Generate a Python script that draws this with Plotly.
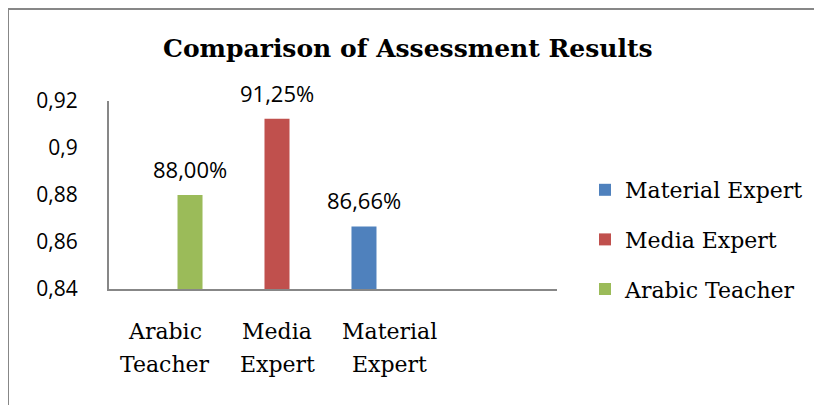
import plotly.graph_objects as go

# ---- data ----
categories = ["Arabic Teacher", "Media Expert", "Material Expert"]
series_names = ["Material Expert", "Media Expert", "Arabic Teacher"]
series_values = {
    "Material Expert": [None, None, 0.8666],
    "Media Expert": [None, 0.9125, None],
    "Arabic Teacher": [0.88, None, None],
}
series_colors = {
    "Material Expert": "#4F81BD",
    "Media Expert": "#C0504D",
    "Arabic Teacher": "#9BBB59",
}
y_ticks = [0.84, 0.86, 0.88, 0.90, 0.92]
title_text = "Comparison of Assessment Results"

# page body has an 8px margin; targets below are screen pixels
OFF = 8
W, H = 822 - OFF, 405 - OFF
L, R, T, B = 109 - OFF, 265, 101 - OFF, 116
PW, PH = W - L - R, H - T - B

def px_x(px):
    return (px - OFF - L) / PW

def px_y(py):
    return (H - B - (py - OFF)) / PH

SERIF = "DejaVu Serif"
SANS = "Open Sans"
GRAY = "#878787"

X_RANGE = [-0.5, 3.5]
BARGAP = 0.33
band_px = PW / (X_RANGE[1] - X_RANGE[0])
n_series = len(series_names)
slot_px = band_px * (1 - BARGAP) / n_series

fig = go.Figure()
annotations = []
for k, name in enumerate(series_names):
    vals = series_values[name]
    fig.add_trace(go.Bar(
        x=categories, y=vals, name=name,
        marker=dict(color=series_colors[name], line=dict(width=0)),
        legendgroup=name,
    ))
    shift = (k - (n_series - 1) / 2) * slot_px
    for c, v in zip(categories, vals):
        if v is None:
            continue
        label = f"{v*100:.2f}%".replace(".", ",")
        annotations.append(dict(
            x=c, y=v, xref="x", yref="y", text=label, showarrow=False,
            yanchor="bottom", yshift=9, xshift=shift,
            font=dict(family=SANS, size=22, color="#000000"),
        ))

for c in categories:
    for j, w in enumerate(c.split(" ")):
        annotations.append(dict(
            x=c, y=px_y(331 + 33 * j), xref="x", yref="paper", text=w,
            showarrow=False, yanchor="middle",
            font=dict(family=SERIF, size=22, color="#000000"),
        ))

annotations.append(dict(
    x=px_x(408), y=px_y(48), xref="paper", yref="paper", text=f"<b>{title_text}</b>",
    showarrow=False, xanchor="center", yanchor="middle",
    font=dict(family=SERIF, size=25, color="#000000"),
))

shapes = [
    dict(type="line", xref="paper", yref="paper", x0=px_x(5), x1=px_x(840),
         y0=px_y(9), y1=px_y(9), line=dict(color=GRAY, width=2)),
    dict(type="line", xref="paper", yref="paper", x0=px_x(8), x1=px_x(8),
         y0=px_y(9), y1=px_y(420), line=dict(color=GRAY, width=2)),
]

fig.update_layout(
    width=W, height=H,
    margin=dict(l=L, r=R, t=T, b=B),
    paper_bgcolor="white", plot_bgcolor="white",
    separators=",.",
    barmode="group", bargap=BARGAP, bargroupgap=0,
    showlegend=True,
    legend=dict(
        x=px_x(585), y=px_y(169), xanchor="left", yanchor="top",
        font=dict(family=SERIF, size=22, color="#000000"),
        tracegroupgap=18, bgcolor="rgba(0,0,0,0)",
    ),
    xaxis=dict(
        categoryorder="array", categoryarray=categories,
        range=X_RANGE,
        showline=True, linecolor=GRAY, linewidth=2,
        showticklabels=False, ticks="", showgrid=False, zeroline=False,
    ),
    yaxis=dict(
        range=[0.84, 0.92], tickvals=y_ticks,
        showline=True, linecolor=GRAY, linewidth=2,
        ticks="outside", ticklen=0, ticklabelstandoff=25,
        showgrid=False, zeroline=False,
        tickfont=dict(family=SANS, size=21, color="#000000"),
    ),
    annotations=annotations,
    shapes=shapes,
)

fig.write_html("out.html")
